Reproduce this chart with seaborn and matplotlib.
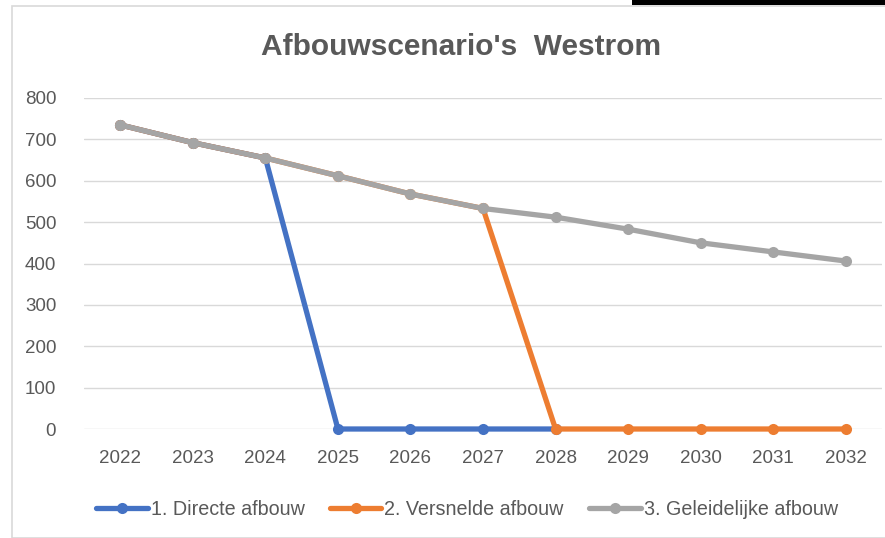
import pandas as pd
import numpy as np
import matplotlib.pyplot as plt
import matplotlib.patches as patches
import seaborn as sns

years = [2022, 2023, 2024, 2025, 2026, 2027, 2028, 2029, 2030, 2031, 2032]
direct = [735, 692, 655, 0, 0, 0, 0, np.nan, np.nan, np.nan, np.nan]
versneld = [735, 692, 655, 612, 568, 533, 0, 0, 0, 0, 0]
geleidelijk = [735, 692, 655, 612, 568, 533, 512, 483, 450, 428, 406]

names = ['1. Directe afbouw', '2. Versnelde afbouw', '3. Geleidelijke afbouw']
colors = ['#4472C4', '#ED7D31', '#A5A5A5']

rows = []
for name, vals in zip(names, [direct, versneld, geleidelijk]):
    for i, v in enumerate(vals):
        if not np.isnan(v):
            rows.append({'pos': i, 'value': v, 'scenario': name})
df = pd.DataFrame(rows)

sns.set_style('white')
plt.rcParams['font.family'] = ['Liberation Sans', 'DejaVu Sans']
text_color = '#595959'

fig = plt.figure(figsize=(8.85, 5.38), dpi=100)
ax = fig.add_axes([84 / 885, 1 - 429 / 538, (882 - 84) / 885, (429 - 98) / 538])

sns.lineplot(data=df, x='pos', y='value', hue='scenario', hue_order=names,
             palette=colors, marker='o', markersize=8, markeredgewidth=0,
             linewidth=3.8, ax=ax, clip_on=False, zorder=3, legend=True)

ax.set_xlim(-0.5, len(years) - 0.5)
ax.set_ylim(0, 800)
ax.set_yticks(range(0, 801, 100))
ax.set_xticks(range(len(years)))
ax.set_xticklabels([str(y) for y in years])
ax.tick_params(axis='both', length=0, labelsize=13.5, colors=text_color)
ax.tick_params(axis='x', pad=15)
ax.tick_params(axis='y', pad=20)
ax.grid(axis='y', color='#D9D9D9', linewidth=1)
ax.set_axisbelow(True)
for s in ax.spines.values():
    s.set_visible(False)
ax.set_xlabel('')
ax.set_ylabel('')

ax.legend(loc='center', bbox_to_anchor=(0.48, -0.243), ncol=3, frameon=False,
          fontsize=14.2, labelcolor=text_color, handlelength=2.6,
          columnspacing=1.3, handletextpad=0.15)

fig.text(461 / 885, 1 - 47 / 538, "Afbouwscenario's  Westrom", ha='center', va='center',
         fontsize=21.5, fontweight='bold', color=text_color)

# chart border and black strip at top right
fig.patches.append(patches.Rectangle((12 / 885, 0), 1, 1 - 6 / 538, transform=fig.transFigure,
                                     fill=False, edgecolor='#D9D9D9', linewidth=1.2))
fig.patches.append(patches.Rectangle((632 / 885, 1 - 5 / 538), 1, 5 / 538, transform=fig.transFigure,
                                     facecolor='black', edgecolor='none'))

fig.savefig('out.png', dpi=100)
